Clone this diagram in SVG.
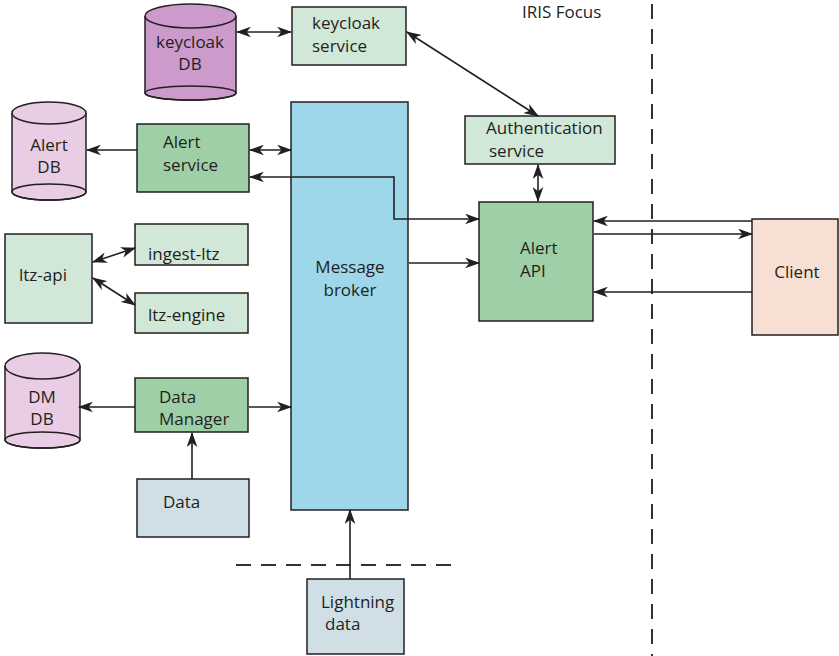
<svg xmlns="http://www.w3.org/2000/svg" width="839" height="656" viewBox="0 0 839 656">
<defs>
<marker id="ah" viewBox="0 0 14 10" refX="13" refY="5" markerWidth="15" markerHeight="11" markerUnits="userSpaceOnUse" orient="auto-start-reverse">
<path d="M0,0 L14,5 L0,10 L4,5 z" fill="#231f20"/>
</marker>
</defs>
<style>
text{font-family:"Open Sans","Liberation Sans",sans-serif;font-size:17px;fill:#231f20}
.b{stroke:#231f20;stroke-width:1.5}
.lg{fill:#d1e7d7}
.mg{fill:#9fcfa7}
.db1{fill:#cc9acb}
.db2{fill:#e8cde4}
.bl{fill:#cfdfe5}
.c{stroke:#231f20;stroke-width:1.6;fill:none}
.a2{marker-start:url(#ah);marker-end:url(#ah)}
.a1{marker-end:url(#ah)}
.d{stroke:#333;stroke-width:2;fill:none;stroke-dasharray:15 10}
.m{text-anchor:middle}
</style>
<g id="dividers">
<line class="d" x1="652" y1="4" x2="652" y2="656"/>
<line class="d" x1="236" y1="565" x2="456" y2="565"/>
<text x="522" y="18">IRIS Focus</text>
</g>
<g id="keycloak-db">
<path class="b db1" d="M145,16 V93 A45.5,7 0 0 0 236,93 V16"/>
<ellipse class="b" fill="none" cx="190.5" cy="93" rx="45.5" ry="7"/>
<ellipse class="b db1" cx="190.5" cy="16" rx="45.5" ry="12"/>
<text class="m" x="190" y="48">keycloak</text>
<text class="m" x="190" y="70">DB</text>
</g>
<g id="keycloak-service">
<rect class="b lg" x="292" y="7" width="114" height="58"/>
<text x="312" y="29">keycloak</text>
<text x="312" y="52">service</text>
</g>
<g id="message-broker">
<rect class="b" fill="#9dd7e9" x="291" y="102" width="117" height="408"/>
<text class="m" x="350" y="273">Message</text>
<text class="m" x="350" y="296">broker</text>
</g>
<g id="alert-db">
<path class="b db2" d="M12,113 V192 A37,8 0 0 0 86,192 V113"/>
<ellipse class="b" fill="none" cx="49" cy="192" rx="37" ry="8"/>
<ellipse class="b db2" cx="49" cy="113" rx="37" ry="11"/>
<text class="m" x="49" y="151">Alert</text>
<text class="m" x="49" y="173">DB</text>
</g>
<g id="alert-service">
<rect class="b mg" x="137" y="124" width="112" height="68"/>
<text x="163" y="148">Alert</text>
<text x="163" y="171">service</text>
</g>
<g id="authentication-service">
<rect class="b lg" x="465" y="116" width="150" height="48"/>
<text x="486" y="134">Authentication</text>
<text x="489" y="157">service</text>
</g>
<g id="alert-api">
<rect class="b mg" x="479" y="202" width="114" height="119"/>
<text x="520" y="254">Alert</text>
<text x="520" y="277">API</text>
</g>
<g id="client">
<rect class="b" fill="#f7dfd3" x="752" y="219" width="86" height="116"/>
<text class="m" x="797" y="278">Client</text>
</g>
<g id="ltz-api">
<rect class="b lg" x="5" y="234" width="87" height="89"/>
<text x="19" y="281">ltz-api</text>
</g>
<g id="ingest-ltz">
<rect class="b lg" x="135" y="224" width="113" height="41"/>
<text x="148" y="260">ingest-ltz</text>
</g>
<g id="ltz-engine">
<rect class="b lg" x="135" y="293" width="113" height="40"/>
<text x="148" y="321">ltz-engine</text>
</g>
<g id="dm-db">
<path class="b db2" d="M5,366 V440 A37.5,8 0 0 0 80,440 V366"/>
<ellipse class="b" fill="none" cx="42.5" cy="440" rx="37.5" ry="8"/>
<ellipse class="b db2" cx="42.5" cy="366" rx="37.5" ry="13"/>
<text class="m" x="42" y="403">DM</text>
<text class="m" x="42" y="425">DB</text>
</g>
<g id="data-manager">
<rect class="b mg" x="135" y="378" width="113" height="54"/>
<text x="159" y="403">Data</text>
<text x="159" y="425">Manager</text>
</g>
<g id="data">
<rect class="b bl" x="137" y="479" width="112" height="58"/>
<text x="163" y="508">Data</text>
</g>
<g id="lightning-data">
<rect class="b bl" x="307" y="579" width="97" height="75"/>
<text x="321" y="608">Lightning</text>
<text x="325" y="630">data</text>
</g>
<g id="connectors">
<line class="c a2" x1="237" y1="32" x2="291" y2="32"/>
<line class="c a2" x1="407" y1="32" x2="538" y2="116"/>
<line class="c a1" x1="137" y1="150" x2="87" y2="150"/>
<line class="c a2" x1="250" y1="150" x2="291" y2="150"/>
<path class="c a2" d="M250,177 H394 V219 H479"/>
<line class="c a1" x1="409" y1="263" x2="479" y2="263"/>
<line class="c a2" x1="538" y1="165" x2="538" y2="201"/>
<line class="c a1" x1="752" y1="221" x2="594" y2="221"/>
<line class="c a1" x1="594" y1="234" x2="752" y2="234"/>
<line class="c a1" x1="752" y1="292" x2="594" y2="292"/>
<line class="c a2" x1="93" y1="262" x2="135" y2="248"/>
<line class="c a2" x1="93" y1="278" x2="135" y2="305"/>
<line class="c a1" x1="135" y1="407" x2="79" y2="407"/>
<line class="c a1" x1="249" y1="407" x2="291" y2="407"/>
<line class="c a1" x1="192" y1="479" x2="192" y2="433"/>
<line class="c a1" x1="350" y1="579" x2="350" y2="510"/>
</g>
</svg>
